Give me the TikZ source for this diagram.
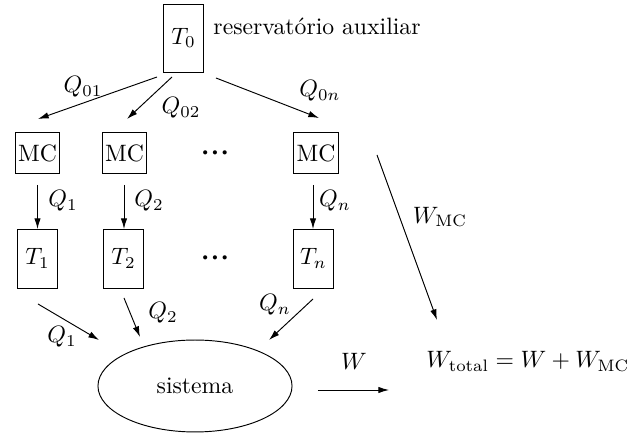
\documentclass[tikz,border=0pt]{standalone}
\usepackage{amsmath}
\usepackage{graphicx}
\usetikzlibrary{arrows.meta,shapes.geometric}
\newcommand{\mydot}{\scalebox{0.45}{$\bullet$}}
\newcommand{\mydots}{\mydot\hspace{1.85pt}\mydot\hspace{1.85pt}\mydot}
\begin{document}
\begin{tikzpicture}[x=0.422pt,y=-0.422pt,
  box/.style={draw, inner sep=0pt, line width=0.4pt},
  tbox/.style={box, minimum width=16.5pt, minimum height=24.9pt},
  mcbox/.style={box, minimum width=18.6pt, minimum height=17.7pt},
  arr/.style={-{Latex[length=4.5pt,width=2.7pt]}, line width=0.4pt},
  lbl/.style={inner sep=0pt}]
\useasboundingbox (0,0) rectangle (631,433);
% top reservoir
\node[box, minimum width=16.5pt, minimum height=28.7pt] (T0) at (183.5,38) {$T_0$};
\node[lbl, anchor=base west] (res) at (213,35) {reservatório auxiliar};
% MC boxes
\node[mcbox] (MC1) at (37.5,153) {MC};
\node[mcbox] (MC2) at (124.5,153) {MC};
\node[mcbox] (MCn) at (316,153) {MC};
\node[lbl] (dotsA) at (215,152.7) {\mydots};
% T boxes
\node[tbox] (T1) at (37.5,258.5) {$T_1$};
\node[tbox] (T2) at (123.5,258.5) {$T_2$};
\node[tbox] (Tn) at (313.5,258.5) {$T_n$};
\node[lbl] (dotsB) at (215,258) {\mydots};
% system
\node[draw, ellipse, inner sep=0pt, minimum width=81.9pt, minimum height=38.8pt] (sys) at (195,386) {sistema};
% result
\node[lbl, anchor=base west] (Wt) at (426,368) {$W_{\text{total}} = W + W_{\text{MC}}$};
% arrow end points
\coordinate (a1s) at (157,77);  \coordinate (a1e) at (38,119);
\coordinate (a2s) at (172,77);  \coordinate (a2e) at (127,119);
\coordinate (a3s) at (216,78);  \coordinate (a3e) at (319,118);
\coordinate (b1s) at (37.5,185); \coordinate (b1e) at (37.5,229);
\coordinate (b2s) at (124,185);  \coordinate (b2e) at (124,229);
\coordinate (b3s) at (313,185);  \coordinate (b3e) at (313,229);
\coordinate (c1s) at (38,304);  \coordinate (c1e) at (99,340);
\coordinate (c2s) at (124,298); \coordinate (c2e) at (140,337);
\coordinate (c3s) at (313,299); \coordinate (c3e) at (269,340);
\coordinate (ws) at (377,155);  \coordinate (we) at (437,320);
\coordinate (Ws) at (318,390);  \coordinate (We) at (389,390);
% arrows
\draw[arr] (a1s) -- (a1e);
\draw[arr] (a2s) -- (a2e);
\draw[arr] (a3s) -- (a3e);
\draw[arr] (b1s) -- (b1e);
\draw[arr] (b2s) -- (b2e);
\draw[arr] (b3s) -- (b3e);
\draw[arr] (c1s) -- (c1e);
\draw[arr] (c2s) -- (c2e);
\draw[arr] (c3s) -- (c3e);
\draw[arr] (ws) -- (we);
\draw[arr] (Ws) -- (We);
% labels
\node[lbl] (lq01) at (83,87) {$Q_{01}$};
\node[lbl] (lq02) at (181,108) {$Q_{02}$};
\node[lbl] (lq0n) at (320,91) {$Q_{0n}$};
\node[lbl] (lq1) at (63,201) {$Q_1$};
\node[lbl] (lq2) at (149,201) {$Q_2$};
\node[lbl] (lqn) at (335,201) {$Q_n$};
\node[lbl] (lwmc) at (440,217) {$W_{\text{MC}}$};
\node[lbl] (lq1b) at (62,337) {$Q_1$};
\node[lbl] (lq2b) at (163,313) {$Q_2$};
\node[lbl] (lqnb) at (275,305) {$Q_n$};
\node[lbl] (lw) at (354,361) {$W$};
\end{tikzpicture}
\end{document}
